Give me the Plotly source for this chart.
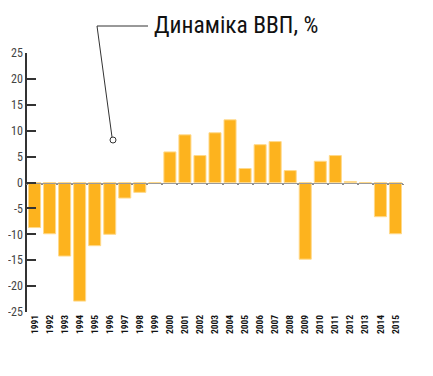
import plotly.graph_objects as go

years = [str(y) for y in range(1991, 2016)]
gdp = [-8.7, -9.9, -14.2, -22.9, -12.2, -10.0, -3.0, -1.9, -0.2, 5.9, 9.2, 5.2, 9.6,
       12.1, 2.7, 7.3, 7.9, 2.3, -14.8, 4.1, 5.2, 0.2, 0.0, -6.6, -9.9]
y_ticks = list(range(-25, 30, 5))
title = "Динаміка ВВП, %"

FONT = "Roboto Condensed, DejaVu Sans Condensed, sans-serif"

fig = go.Figure()
fig.add_trace(go.Bar(
    x=years, y=gdp,
    marker=dict(color="#FDB31E", line=dict(color="#FFD98A", width=1)),
    hoverinfo="x+y",
))
# invisible trace for the zero-line axis with boundary ticks
fig.add_trace(go.Scatter(x=years, y=[0]*len(years), xaxis="x2", mode="none",
                         showlegend=False, hoverinfo="skip"))

# page has an 8px body margin, so figure coords = page coords - 8
fig.update_layout(
    width=433, height=376,
    margin=dict(l=19, r=38, t=45, b=72, autoexpand=False),
    paper_bgcolor="white", plot_bgcolor="white",
    showlegend=False,
    bargap=0.2,
    font=dict(family=FONT, color="#333"),
    xaxis=dict(
        type="category", categoryarray=years, range=[-0.5, 24.5],
        tickangle=-90, showgrid=False, zeroline=False, showline=False, ticks="",
        automargin=False,
        tickfont=dict(size=9.5, color="#111", family=FONT, weight="bold"),
    ),
    xaxis2=dict(
        type="category", categoryarray=years, range=[-0.5, 24.5],
        overlaying="x", anchor="free", position=0.5,
        showline=True, linecolor="#9a9a9a", linewidth=1,
        ticks="outside", tickson="boundaries", ticklen=1, tickwidth=2, tickcolor="#888",
        showticklabels=False, showgrid=False, zeroline=False, automargin=False,
    ),
    yaxis=dict(
        range=[-25, 25], tickvals=y_ticks, ticktext=[str(v) for v in y_ticks],
        showgrid=False, zeroline=False, automargin=False,
        showline=True, linecolor="#333", linewidth=1.5,
        ticks="inside", ticklen=9, tickwidth=1.5, tickcolor="#333",
        tickfont=dict(size=12, color="#444", family=FONT),
    ),
)

def px(xp):
    return (xp - 27) / 376

def py(yp):
    return (312 - yp) / 259

fig.add_annotation(
    xref="paper", yref="paper", x=px(152), y=py(25),
    text=title, showarrow=False, xanchor="left", yanchor="middle",
    font=dict(size=23.5, color="#111", family=FONT),
)

fig.add_shape(type="line", xref="paper", yref="paper",
              x0=px(97), y0=py(26), x1=px(148), y1=py(26),
              line=dict(color="#333", width=1))
fig.add_shape(type="line", xref="paper", yref="paper",
              x0=px(97), y0=py(26), x1=px(112), y1=py(137),
              line=dict(color="#333", width=1))
fig.add_shape(type="circle", xref="paper", yref="paper",
              x0=px(110), y0=py(137), x1=px(116), y1=py(143),
              line=dict(color="#333", width=1), fillcolor="white")

fig.write_html("out.html")
